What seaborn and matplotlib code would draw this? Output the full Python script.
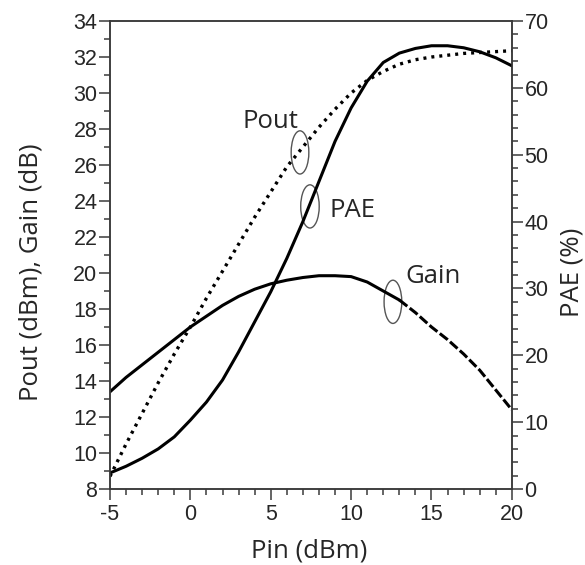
import numpy as np
import pandas as pd
import matplotlib
matplotlib.use("Agg")
import matplotlib.pyplot as plt
import seaborn as sns
from matplotlib.patches import Ellipse
from matplotlib.ticker import MultipleLocator

# ---- data ----
pin = [-5, -4, -3, -2, -1, 0, 1, 2, 3, 4, 5, 6, 7, 8, 9, 10,
       11, 12, 13, 14, 15, 16, 17, 18, 19, 20]
pout = [8.7, 10.5, 12.2, 13.9, 15.5, 17.0, 18.6, 20.1, 21.6, 23.1, 24.5, 25.9, 27.0,
        28.1, 29.1, 30.0, 30.7, 31.2, 31.6, 31.85, 32.0, 32.1, 32.2, 32.25, 32.3, 32.35]
gain = [13.4, 14.2, 14.9, 15.6, 16.3, 17.0, 17.6, 18.2, 18.7, 19.1, 19.4, 19.6, 19.75,
        19.85, 19.85, 19.8, 19.5, 19.0, 18.5, 17.8, 17.0, 16.3, 15.5, 14.6, 13.5, 12.4]
pae = [2.4, 3.4, 4.6, 6.0, 7.8, 10.3, 13.0, 16.3, 20.5, 25.0, 29.5, 34.5, 40.0, 46.0,
       52.0, 57.0, 61.0, 63.8, 65.2, 65.9, 66.3, 66.3, 66.0, 65.4, 64.5, 63.3]
gain_dash_start = 13

xticks = [-5, 0, 5, 10, 15, 20]
yticks_left = list(range(8, 35, 2))
yticks_right = list(range(0, 71, 10))

df = pd.DataFrame({"pin": pin, "pout": pout, "gain": gain, "pae": pae})

sns.set_style("ticks")
plt.rcParams["font.family"] = ["Liberation Sans", "DejaVu Sans"]
plt.rcParams["axes.unicode_minus"] = False

axcol = "#3a3a3a"
fig = plt.figure(figsize=(5.85, 5.65), dpi=100)
ax = fig.add_axes([0.188, 0.1345, 0.687, 0.8283])
ax2 = ax.twinx()

lw = 2.2
sns.lineplot(data=df, x="pin", y="pout", ax=ax, color="black", lw=2.4,
             linestyle=(0, (0.9, 1.5)))
sns.lineplot(data=df[df.pin <= gain_dash_start], x="pin", y="gain", ax=ax,
             color="black", lw=lw)
sns.lineplot(data=df[df.pin >= gain_dash_start], x="pin", y="gain", ax=ax,
             color="black", lw=lw, linestyle=(0, (3.3, 1.0)))
sns.lineplot(data=df, x="pin", y="pae", ax=ax2, color="black", lw=lw)

ax.set_xlim(-5, 20)
ax.set_ylim(8, 34)
ax2.set_ylim(0, 70)

ax.set_xticks(xticks)
ax.set_yticks(yticks_left)
ax2.set_yticks(yticks_right)
ax.xaxis.set_minor_locator(MultipleLocator(1))
ax.yaxis.set_minor_locator(MultipleLocator(1))
ax2.yaxis.set_minor_locator(MultipleLocator(2))

for a in (ax, ax2):
    for s in a.spines.values():
        s.set_visible(True)
        s.set_color(axcol)
        s.set_linewidth(1.1)
    a.tick_params(which="major", direction="out", length=8, width=1.1, color=axcol,
                  labelsize=15.5, pad=1)
    a.tick_params(which="minor", direction="out", length=4, width=1.1, color=axcol)
ax.tick_params(axis="x", top=False, which="both", pad=3)
ax2.tick_params(axis="x", top=False, which="both")

lab_font = dict(family=["Open Sans", "DejaVu Sans"], fontsize=18.5)
ax.set_xlabel("Pin (dBm)", va="baseline", ha="center", **lab_font)
ax.xaxis.set_label_coords(0.496, -0.147)
ax.set_ylabel("Pout (dBm), Gain (dB)", va="center", ha="center", **lab_font)
ax.yaxis.set_label_coords(-0.197, 0.464)
ax2.set_ylabel("PAE (%)", rotation=90, va="center", ha="center", **lab_font)
ax2.yaxis.set_label_coords(1.149, 0.464)

# annotations
ell_kw = dict(fill=False, edgecolor="#555555", lw=1.0)
ax.add_patch(Ellipse((6.82, 26.7), 1.1, 2.4, **ell_kw))
ax.add_patch(Ellipse((7.44, 23.7), 1.15, 2.4, **ell_kw))
ax.add_patch(Ellipse((12.6, 18.4), 1.1, 2.4, **ell_kw))
ax.text(3.27, 28.4, "Pout", va="center", ha="left", **lab_font)
ax.text(8.68, 23.5, "PAE", va="center", ha="left", **lab_font)
ax.text(13.35, 19.8, "Gain", va="center", ha="left", **lab_font)

fig.savefig("out.png", dpi=100)
